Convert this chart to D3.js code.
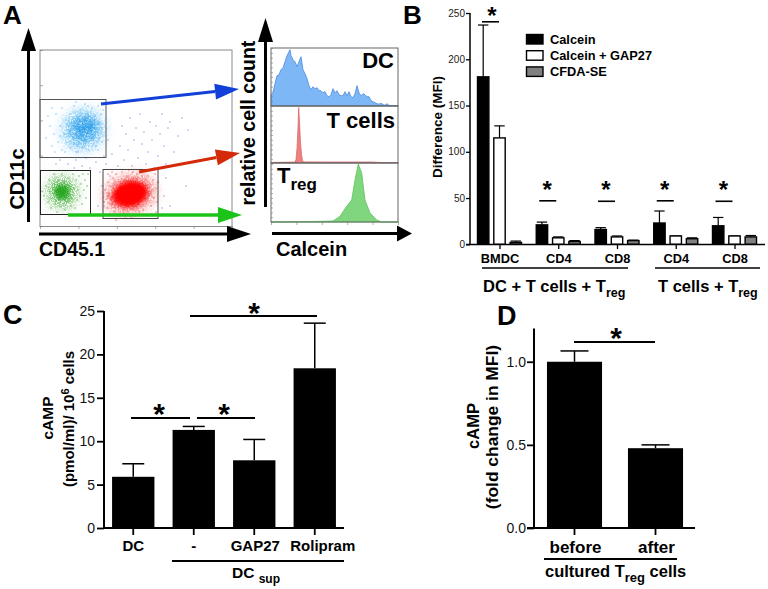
<!DOCTYPE html>
<html><head><meta charset="utf-8">
<script src="https://cdn.jsdelivr.net/npm/d3@7"></script>
<style>html,body{margin:0;padding:0;background:#fff}svg{display:block}text{font-family:"Liberation Sans",Arial,sans-serif;fill:#000}</style>
</head><body><svg id="c" width="768" height="589"></svg>
<script>
// ---------- Panel A data (channels)
const cloudDC=[[6,88],[10,100],[12,80],[14,92],[16,112],[18,84],[20,100],[22,76],[22,118],[24,92],[26,106],[27,84],[28,96],[30,78],[30,112],[32,102],[33,88],[34,120],[35,96],[36,74],[37,108],[38,84],[39,100],[40,116],[41,90],[42,78],[43,106],[44,94],[45,122],[46,84],[47,100],[48,112],[49,76],[50,92],[51,104],[52,118],[53,86],[54,98],[55,110],[56,80],[57,94],[58,120],[59,104],[60,88],[61,112],[62,98],[63,116],[20,90],[34,82],[48,120],[25,74],[15,74],[58,76],[62,84],[8,110],[12,118],[36,124]];
const cloudGreen=[[4,30],[6,40],[8,24],[9,46],[10,34],[11,18],[12,28],[13,42],[14,52],[15,22],[16,36],[17,14],[18,46],[19,28],[20,40],[21,20],[22,52],[23,30],[24,44],[25,16],[26,36],[27,24],[28,48],[29,32],[30,42],[31,20],[32,28],[33,52],[34,38],[35,18],[36,46],[37,26],[38,36],[39,50],[40,30],[41,42],[42,22],[43,52],[44,36],[45,46],[46,28],[47,40],[48,52]];
const cloudRed=[[64,24],[65,36],[67,18],[68,44],[69,30],[70,12],[71,40],[72,22],[73,48],[74,14],[75,34],[76,52],[78,10],[79,44],[80,24],[82,54],[83,12],[85,8],[87,50],[89,56],[91,8],[93,54],[95,10],[97,52],[99,14],[100,56],[102,50],[103,16],[105,46],[106,22],[108,50],[109,30],[110,42],[111,20],[112,36],[113,46],[114,28],[115,52],[116,38],[117,24],[112,12],[72,54],[68,52],[76,6],[116,14],[118,44]];
const cloudOther=[[38,74],[42,60],[46,68],[50,58],[56,64],[60,54],[64,70],[66,62],[68,86],[70,50],[72,72],[74,42],[76,34],[78,60],[80,80],[82,100],[84,66],[86,92],[88,76],[90,108],[92,60],[94,86],[96,98],[98,68],[100,112],[102,82],[104,94],[106,62],[108,74],[110,104],[112,86],[114,58],[116,100],[118,70],[120,92],[122,112],[124,80],[126,62],[128,98],[130,104],[134,74],[138,90],[142,108],[148,96],[126,48],[124,30],[122,18],[68,30],[64,20],[62,40],[130,20],[146,40],[20,66],[28,62],[34,58],[16,62],[36,66],[58,20]];
const dcCal=[0,2,4,6,8,10,12,14,16,18,19,20,22,24,26,28,30,32,34,36,38,40,42,44,46,48,50,52,54,56,58,60,62,64,66,68,70,72,74,76,78,80,82,84,86,88,90,92,94,96,98,100,102,104,106,108,110,112,114,116,118,127];
const dcCount=[11,13,22,30,31,36,38,44,50,54,56,50,46,44,39,44,49,36,32,27,20,16,19,17,18,15,15,13,14,10,9,11,17,13,15,11,10,10,14,10,14,9,8,12,20,13,10,12,11,9,9,5,4,3,2,1.5,2.5,1,0.5,2,0.3,0];
const tCal=[0,24,25,26,27,27.7,28.5,29.5,30.5,31.5,33,60,100,110,127];
const tCount=[0,0.5,3,14,35,55,40,20,8,2,0.6,0.5,0.5,0,0];
const regCal=[0,40,62,69,75.7,80.7,84,87.3,90.7,94,99,105.7,110.7,127];
const regCount=[0,0.5,1,5.7,15.7,22,42,58,49,22,9,2,0,0];
// ---------- Panel B data
const groupsB=["BMDC","CD4","CD8","CD4","CD8"];
const seriesB=["Calcein","Calcein + GAP27","CFDA-SE"];
const calcein=[181,21,16,23,20];
const calceinTop=[237,24,18,36,29];
const gap27=[115,7,8,9,9];
const gap27Top=[128,8,9,9,9];
const cfda=[2,3,4,6,8];
const cfdaTop=[3.5,4,4.5,7,9.5];
const sigB=[240.5,47,46.5,47,46.5];
const ticksB=[0,50,100,150,200,250];
// ---------- Panel C data
const catsC=["DC","-","GAP27","Rolipram"];
const valsC=[5.9,11.3,7.8,18.4];
const topsC=[7.4,11.7,10.2,23.6];
const ticksC=[0,5,10,15,20,25];
// ---------- Panel D data
const catsD=["before","after"];
const valsD=[1.0,0.48];
const topsD=[1.065,0.5];
const ticksD=[0,0.5,1.0];

const svg=d3.select("#c");
const txt=(x,y,s,size,o={})=>{const t=svg.append("text").attr("x",x).attr("y",y).attr("font-size",size).attr("font-weight",o.w||"bold").attr("text-anchor",o.a||"start").text(s);if(o.rot!=null)t.attr("transform",`rotate(${o.rot} ${x} ${y})`);if(o.fill)t.style("fill",o.fill);return t;};
const subTxt=(x,y,a,b,c,size,subSize,anchor,rot)=>{const t=svg.append("text").attr("x",x).attr("y",y).attr("font-size",size).attr("font-weight","bold").attr("text-anchor",anchor||"start");if(rot!=null)t.attr("transform",`rotate(${rot} ${x} ${y})`);t.append("tspan").text(a);t.append("tspan").attr("font-size",subSize).attr("dy",size*0.3).text(b);if(c)t.append("tspan").attr("font-size",size).attr("dy",-size*0.3).text(c);return t;};
const arrow=(x1,y1,x2,y2,col,lw,hl,hw)=>{const a=Math.atan2(y2-y1,x2-x1),bx=x2-hl*Math.cos(a),by=y2-hl*Math.sin(a),nx=-Math.sin(a)*hw,ny=Math.cos(a)*hw;
 svg.append("line").attr("x1",x1).attr("y1",y1).attr("x2",bx).attr("y2",by).attr("stroke",col).attr("stroke-width",lw);
 svg.append("path").attr("d",`M${x2},${y2}L${bx+nx},${by+ny}L${bx-nx},${by-ny}Z`).attr("fill",col);};
const star=(x,yc,size)=>txt(x,yc+size*0.5,"*",size,{a:"middle"});
const hline=(x1,x2,y,w)=>svg.append("line").attr("x1",x1).attr("x2",x2).attr("y1",y).attr("y2",y).attr("stroke","#000").attr("stroke-width",w||2);

// Panel letters
txt(3,24,"A",26);txt(403,23.5,"B",26);txt(3,324,"C",27);txt(497,325,"D",27);

// ---------- A: dot plot
const sx=d3.scaleLinear().domain([0,192]).range([40,232]);
const sy=d3.scaleLinear().domain([0,176]).range([226,50]);
const defs=svg.append("defs");
const mkGrain=(id,blur,seed)=>{const f=defs.append("filter").attr("id",id).attr("x","-60%").attr("y","-60%").attr("width","220%").attr("height","220%");
 f.append("feGaussianBlur").attr("in","SourceGraphic").attr("stdDeviation",blur).attr("result","b");
 f.append("feTurbulence").attr("type","fractalNoise").attr("baseFrequency",1.1).attr("numOctaves",1).attr("seed",seed).attr("result","n");
 f.append("feColorMatrix").attr("in","n").attr("type","matrix").attr("values","0 0 0 0 0  0 0 0 0 0  0 0 0 0 0  9 0 0 0 -3.6").attr("result","m");
 f.append("feComposite").attr("in","b").attr("in2","m").attr("operator","in");};
mkGrain("g1",6,3);mkGrain("g2",3.5,8);
defs.append("filter").attr("id","b1").attr("x","-50%").attr("y","-50%").attr("width","200%").attr("height","200%").append("feGaussianBlur").attr("stdDeviation",2);
svg.append("rect").attr("x",40).attr("y",50).attr("width",192).attr("height",176.5).attr("fill","#fff").attr("stroke","#8a8a8a").attr("stroke-width",1);
const logB=d3.scaleLog().domain([1,1e5]).range([40,232]);
svg.append("g").attr("transform","translate(0,226)").call(d3.axisBottom(logB).ticks(5).tickSize(3).tickFormat("")).call(g=>{g.select(".domain").remove();g.selectAll("line").attr("stroke","#777").attr("stroke-width",.6);});
const logL=d3.scaleLog().domain([1,1e5]).range([226,50]);
svg.append("g").attr("transform","translate(40,0)").call(d3.axisRight(logL).ticks(5).tickSize(3).tickFormat("")).call(g=>{g.select(".domain").remove();g.selectAll("line").attr("stroke","#777").attr("stroke-width",.6);});
const blob=(cx,cy,rx,ry,rot,col,op,f)=>svg.append("ellipse").attr("cx",sx(cx)).attr("cy",sy(cy)).attr("rx",rx).attr("ry",ry).attr("fill",col).attr("opacity",op).attr("filter",`url(#${f})`).attr("transform",`rotate(${rot} ${sx(cx)} ${sy(cy)})`);
const dots=(arr,col,r,op)=>svg.append("g").selectAll("circle").data(arr).join("circle").attr("cx",d=>sx(d[0])).attr("cy",d=>sy(d[1])).attr("r",r).attr("fill",col).attr("opacity",op);
dots(cloudOther,"#7f76d8",.7,.85);
blob(43,96,21,20,-20,"#63bdf2",1,"g1");blob(45,98,13,11,-20,"#2f9fe8",1,"g2");
blob(22,34,15,16,0,"#63bb58",1,"g1");blob(22,34,8,8,0,"#22a51f",.9,"b1");
blob(90,32,25,18,-15,"#f04a4a",1,"g1");blob(90,32,18,13,-15,"#ff0000",1,"b1");
dots(cloudDC,"#58b4ee",.7,.9);dots(cloudGreen,"#3fae3a",.7,.9);dots(cloudRed,"#f04848",.7,.9);
const gate=(x,y,w,h,c)=>svg.append("rect").attr("x",x).attr("y",y).attr("width",w).attr("height",h).attr("fill","none").attr("stroke",c).attr("stroke-width",1);
gate(40,99.5,66,58,"#555");gate(40.5,170.5,50,44,"#222");gate(103,169.5,55,49,"#444");
arrow(101,104,239,89,"#1240d8",3,24,8);
arrow(139,172,240,153,"#d42a0a",3,24,8);
arrow(68,215,242,215,"#1cc41a",3.5,24,8);
arrow(28.5,222,28.5,28,"#000",3,23,7.5);
arrow(39,234,251,234,"#000",3,24,8);
arrow(265.5,207,265.5,18,"#000",3,24,7.5);
arrow(272,233.5,412,233.5,"#000",3,15,8);
txt(24,179,"CD11c",20,{rot:-90,a:"middle"});
txt(39,256,"CD45.1",19.5);
txt(255,123,"relative cell count",19.5,{rot:-90,a:"middle"});
txt(276,256,"Calcein",20);

// ---------- A: histograms
const hx=d3.scaleLinear().domain([0,127]).range([271,398]);
const hy=d3.scaleLinear().domain([0,58]).range([0,-58]);
const hist=(cal,cnt,base,fill,stroke)=>{const pts=cal.map((c,i)=>[c,cnt[i]]);
 const ar=d3.area().x(d=>hx(d[0])).y0(base).y1(d=>base+hy(d[1]));
 svg.append("path").attr("d",ar(pts)).attr("fill",fill).attr("stroke",stroke).attr("stroke-width",.8);};
hist(dcCal,dcCount,105.7,"#7db7f6","#4a88de");
hist(tCal,tCount,162.5,"#ee8080","#d96a6a");
hist(regCal,regCount,222,"#7fd67f","#5cc45c");
[[271,48,127,58],[271,106,127,57],[271,163,127,59]].forEach(r=>svg.append("rect").attr("x",r[0]).attr("y",r[1]).attr("width",r[2]).attr("height",r[3]).attr("fill","none").attr("stroke","#666").attr("stroke-width",1));
const hlog=d3.scaleLog().domain([1,1e5]).range([271,398]);
svg.append("g").attr("transform","translate(0,222)").call(d3.axisBottom(hlog).ticks(5).tickSize(3).tickFormat("")).call(g=>{g.select(".domain").remove();g.selectAll("line").attr("stroke","#777").attr("stroke-width",.6);});
const hlogL=d3.scaleLinear().domain([0,36]).range([222,48]);
svg.append("g").attr("transform","translate(271,0)").call(d3.axisRight(hlogL).ticks(36).tickSize(2).tickFormat("")).call(g=>{g.select(".domain").remove();g.selectAll("line").attr("stroke","#777").attr("stroke-width",.6);});
txt(394,68,"DC",22,{a:"end"});
txt(395,127.5,"T cells",22,{a:"end"});
subTxt(277,183,"T","reg",null,22,17);

// ---------- B
const yB=d3.scaleLinear().domain([0,250]).range([244.3,13]);
const xG=d3.scaleLinear().domain([0,4]).range([477,712]);
const xS=d3.scaleBand().domain(seriesB).range([0,45]).paddingInner(.24).paddingOuter(0);
const valsB=[calcein,gap27,cfda],topsB=[calceinTop,gap27Top,cfdaTop];
const fillsB=["#000","#fff","#808080"];
seriesB.forEach((s,k)=>{const g=svg.append("g");
 const rows=groupsB.map((_,i)=>({i,v:valsB[k][i],t:topsB[k][i]}));
 g.selectAll("line").data(rows).join("line").attr("x1",d=>xG(d.i)+xS(s)+xS.bandwidth()/2).attr("x2",d=>xG(d.i)+xS(s)+xS.bandwidth()/2).attr("y1",d=>yB(d.v)).attr("y2",d=>yB(d.t)).attr("stroke","#000").attr("stroke-width",1.2);
 g.selectAll(".cap").data(rows).join("line").attr("class","cap").attr("x1",d=>xG(d.i)+xS(s)+1).attr("x2",d=>xG(d.i)+xS(s)+xS.bandwidth()-1).attr("y1",d=>yB(d.t)).attr("y2",d=>yB(d.t)).attr("stroke","#000").attr("stroke-width",1.2);
 g.selectAll("rect").data(rows).join("rect").attr("x",d=>xG(d.i)+xS(s)+.5).attr("width",xS.bandwidth()-1).attr("y",d=>yB(d.v)).attr("height",d=>yB(0)-yB(d.v)).attr("fill",fillsB[k]).attr("stroke","#000").attr("stroke-width",1.4);
});
svg.append("g").attr("transform","translate(470,0)").call(d3.axisLeft(yB).tickValues(ticksB).tickSize(4).tickPadding(1)).call(g=>{g.select(".domain").attr("stroke-width",1.5).attr("d","M0,13V244.3");g.selectAll("line").attr("stroke-width",1.3);g.selectAll("text").attr("font-size",10).attr("font-family","Liberation Sans").style("fill","#222");});
hline(466,765,244.5,1.5);
groupsB.forEach((c,i)=>{const cx=xG(i)+23;svg.append("line").attr("x1",cx).attr("x2",cx).attr("y1",244.5).attr("y2",249).attr("stroke","#000").attr("stroke-width",1.3);
 txt(cx,263,c,12.8,{a:"middle"});
 hline(xG(i)+(i==0?5:3.5),xG(i)+(i==0?22:20.5),yB(sigB[i]),1.6);
 star(xG(i)+(i==0?15:11.5),i==0?12:186,24);});
txt(442,127,"Difference (MFI)",13.5,{a:"middle",rot:-90});
seriesB.forEach((s,k)=>{svg.append("rect").attr("x",526.5).attr("y",34.5+k*16.2).attr("width",16.5).attr("height",9.5).attr("fill",fillsB[k]).attr("stroke","#000").attr("stroke-width",1.4);txt(550,44+k*16,s,12.8);});
hline(482,628,268,1.6);hline(655,760,268,1.6);
subTxt(483,292,"DC + T cells + T","reg",null,16.5,12.5);
subTxt(658,292,"T cells + T","reg",null,16.5,12.5);

// ---------- C
const yC=d3.scaleLinear().domain([0,25]).range([528,311]);
const xC=d3.scaleBand().domain(catsC).range([103,345]).paddingInner(.3).paddingOuter(.15);
const rowsC=catsC.map((c,i)=>({c,v:valsC[i],t:topsC[i]}));
const gC=svg.append("g");
gC.selectAll(".s").data(rowsC).join("line").attr("class","s").attr("x1",d=>xC(d.c)+xC.bandwidth()/2).attr("x2",d=>xC(d.c)+xC.bandwidth()/2).attr("y1",d=>yC(d.v)).attr("y2",d=>yC(d.t)).attr("stroke","#000").attr("stroke-width",1.5);
gC.selectAll(".k").data(rowsC).join("line").attr("class","k").attr("x1",d=>xC(d.c)+xC.bandwidth()/2-11).attr("x2",d=>xC(d.c)+xC.bandwidth()/2+11).attr("y1",d=>yC(d.t)).attr("y2",d=>yC(d.t)).attr("stroke","#000").attr("stroke-width",1.5);
gC.selectAll("rect").data(rowsC).join("rect").attr("x",d=>xC(d.c)).attr("width",xC.bandwidth()).attr("y",d=>yC(d.v)).attr("height",d=>yC(0)-yC(d.v)).attr("fill","#000");
svg.append("g").attr("transform","translate(104,0)").call(d3.axisLeft(yC).tickValues(ticksC).tickSize(7).tickPadding(2)).call(g=>{g.select(".domain").attr("stroke-width",2).attr("d","M0,311V528");g.selectAll("line").attr("stroke-width",1.8);g.selectAll("text").attr("font-size",14).attr("font-family","Liberation Sans").style("fill","#111");});
hline(103,344,528,2);
catsC.forEach(c=>{const cx=xC(c)+xC.bandwidth()/2;svg.append("line").attr("x1",cx).attr("x2",cx).attr("y1",528).attr("y2",535).attr("stroke","#000").attr("stroke-width",1.8);txt(cx+(c=="Rolipram"?8:c=="GAP27"?1:0),551,c,15,{a:"middle"});});
hline(172,344,561,2);
subTxt(256,578,"DC ","sup",null,15.5,12,"middle");
txt(53,418,"cAMP",15.5,{a:"middle",rot:-90});
const tc=txt(74,419,"(pmol/ml)/ 10",15,{a:"middle",rot:-90});
tc.append("tspan").attr("font-size",11).attr("dy",-5).text("6");tc.append("tspan").attr("dy",5).text(" cells");
hline(190,317,316,2);star(254,308,30);
hline(131,190,418,2);star(159,409,30);
hline(197,255,418,2);star(224,409,30);

// ---------- D
const yD=d3.scaleLinear().domain([0,1.2]).range([528,328.5]);
const xD=d3.scaleBand().domain(catsD).range([534,696]).paddingInner(.32).paddingOuter(.16);
const rowsD=catsD.map((c,i)=>({c,v:valsD[i],t:topsD[i]}));
const gD=svg.append("g");
gD.selectAll(".s").data(rowsD).join("line").attr("class","s").attr("x1",d=>xD(d.c)+xD.bandwidth()/2).attr("x2",d=>xD(d.c)+xD.bandwidth()/2).attr("y1",d=>yD(d.v)).attr("y2",d=>yD(d.t)).attr("stroke","#000").attr("stroke-width",1.5);
gD.selectAll(".k").data(rowsD).join("line").attr("class","k").attr("x1",d=>xD(d.c)+xD.bandwidth()/2-14).attr("x2",d=>xD(d.c)+xD.bandwidth()/2+14).attr("y1",d=>yD(d.t)).attr("y2",d=>yD(d.t)).attr("stroke","#000").attr("stroke-width",1.5);
gD.selectAll("rect").data(rowsD).join("rect").attr("x",d=>xD(d.c)).attr("width",xD.bandwidth()).attr("y",d=>yD(d.v)).attr("height",d=>yD(0)-yD(d.v)).attr("fill","#000");
svg.append("g").attr("transform","translate(534,0)").call(d3.axisLeft(yD).tickValues(ticksD).tickFormat(d3.format(".1f")).tickSize(7).tickPadding(1)).call(g=>{g.select(".domain").attr("stroke-width",2).attr("d","M0,328.5V528");g.selectAll("line").attr("stroke-width",1.8);g.selectAll("text").attr("font-size",14).attr("font-family","Liberation Sans").style("fill","#111");});
hline(527,695,528,2);
catsD.forEach(c=>{const cx=xD(c)+xD.bandwidth()/2;svg.append("line").attr("x1",cx).attr("x2",cx).attr("y1",528).attr("y2",535).attr("stroke","#000").attr("stroke-width",1.8);txt(cx+1,553,c,17,{a:"middle"});});
hline(544,677,559,2);
subTxt(545,577,"cultured T","reg"," cells",16.5,13);
txt(479,426,"cAMP",16.5,{a:"middle",rot:-90});
txt(498,427,"(fold change in MFI)",17.4,{a:"middle",rot:-90});
hline(574,655,342,2);star(616,333,30);
</script></body></html>
